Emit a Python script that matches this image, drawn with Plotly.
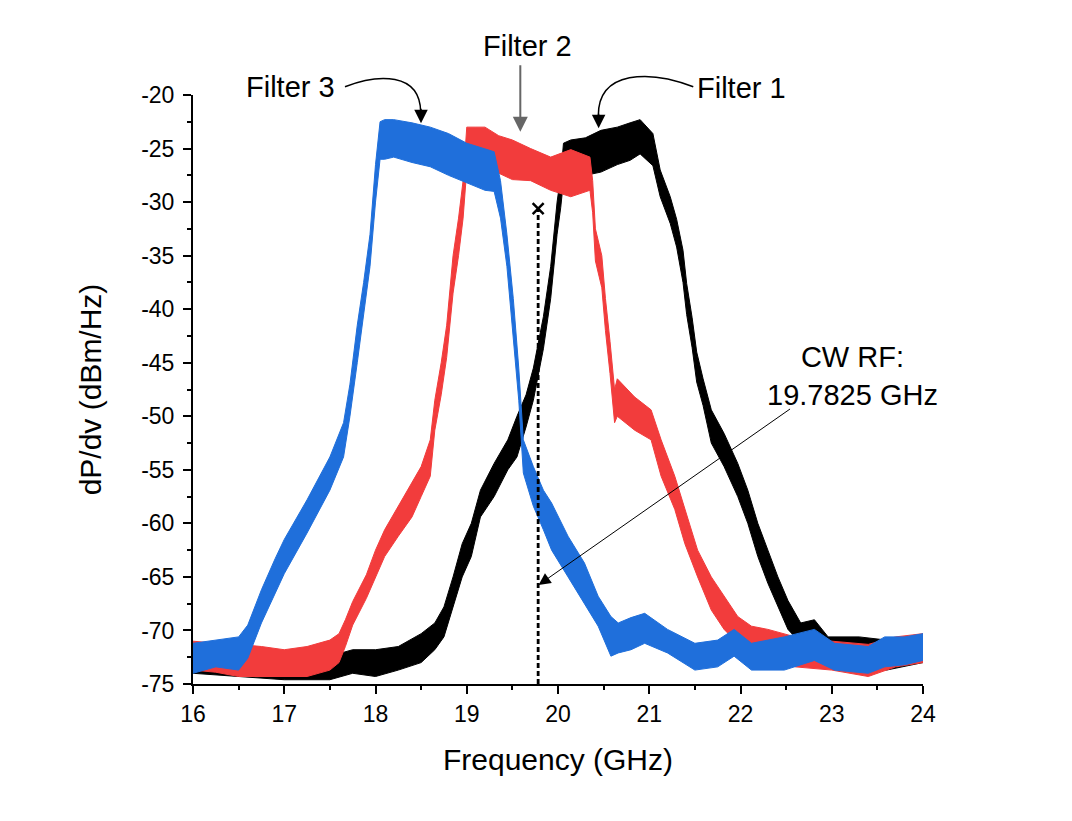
import plotly.graph_objects as go

# ---------------- data ----------------
# Filter 1 (black): frequency (GHz), lower / upper envelope of the noisy trace (dBm/Hz)
f1_freq = [16.0, 16.5, 17.0, 17.5, 17.75, 18.0, 18.25, 18.5, 18.65, 18.75, 18.85, 18.95,
           19.05, 19.15, 19.3, 19.45, 19.55, 19.65, 19.73, 19.84, 19.92, 19.99, 20.03, 20.06,
           20.14, 20.3, 20.47, 20.65, 20.79, 20.9, 21.04, 21.12, 21.23, 21.3, 21.37, 21.41,
           21.47, 21.52, 21.59, 21.68, 21.82, 21.97, 22.08, 22.19, 22.3, 22.41, 22.52, 22.66,
           22.81, 22.96, 23.3, 23.6, 24.0]
f1_lo = [-74.0, -74.3, -74.6, -74.6, -74.0, -74.3, -73.7, -73.0, -71.8, -70.6, -67.8, -65.0,
         -63.1, -59.4, -57.5, -55.0, -53.8, -51.0, -48.5, -43.7, -39.0, -33.0, -30.5, -28.0,
         -27.6, -27.5, -27.2, -26.5, -26.1, -25.5, -26.6, -29.5, -32.0, -34.2, -37.5, -40.5,
         -43.6, -46.8, -49.0, -52.5, -54.7, -57.5, -60.0, -63.1, -65.6, -67.8, -69.9, -71.2,
         -71.5, -73.0, -73.4, -73.7, -73.0]
f1_hi = [-72.1, -72.4, -72.8, -72.4, -71.8, -71.8, -71.5, -70.3, -69.3, -67.8, -65.0, -61.9,
         -60.0, -56.9, -54.4, -52.2, -50.0, -48.0, -45.5, -40.7, -36.0, -30.0, -27.5, -24.5,
         -24.2, -24.0, -23.3, -23.0, -22.6, -22.3, -23.6, -27.0, -29.5, -31.6, -34.5, -37.6,
         -40.8, -44.0, -46.5, -49.4, -51.6, -54.4, -56.9, -60.0, -62.5, -65.0, -67.2, -69.3,
         -69.0, -70.6, -70.6, -70.9, -70.6]

# Filter 2 (red)
f2_freq = [16.0, 16.25, 16.5, 16.75, 17.0, 17.25, 17.5, 17.6, 17.67, 17.75, 17.9, 18.0,
           18.1, 18.25, 18.4, 18.5, 18.6, 18.65, 18.72, 18.78, 18.85, 18.91, 18.96, 19.0,
           19.1, 19.2, 19.35, 19.5, 19.7, 19.92, 20.14, 20.35, 20.38, 20.41, 20.48, 20.52,
           20.57, 20.62, 20.65, 20.84, 21.02, 21.13, 21.28, 21.39, 21.53, 21.68, 21.82, 21.97,
           22.12, 22.3, 22.6, 23.0, 23.4, 23.7, 24.0]
f2_lo = [-73.7, -73.9, -74.3, -74.3, -74.3, -74.3, -73.7, -73.0, -71.5, -69.5, -67.0, -65.0,
         -63.1, -61.2, -59.4, -57.5, -55.6, -51.3, -48.0, -44.5, -38.5, -35.0, -31.5, -27.0,
         -26.5, -26.7, -27.3, -27.9, -28.0, -28.9, -29.5, -28.9, -31.0, -35.5, -38.0, -42.0,
         -46.0, -50.6, -50.0, -51.3, -52.2, -55.6, -58.7, -61.9, -65.0, -68.1, -69.9, -71.2,
         -71.8, -72.4, -73.4, -73.7, -74.3, -73.4, -73.0]
f2_hi = [-71.0, -71.2, -71.3, -71.5, -71.8, -71.5, -70.9, -70.3, -69.0, -67.3, -64.8, -62.5,
         -60.6, -58.4, -56.3, -54.7, -52.2, -48.5, -45.0, -41.5, -35.0, -31.5, -28.0, -23.0,
         -23.0, -23.0, -23.8, -24.2, -25.0, -25.8, -25.1, -25.8, -28.0, -32.5, -35.0, -39.0,
         -43.0, -47.5, -46.5, -48.2, -49.4, -52.2, -55.6, -58.7, -62.5, -65.0, -66.8, -68.7,
         -69.6, -69.9, -70.6, -71.0, -71.3, -70.6, -70.3]

# Filter 3 (blue)
f3_freq = [16.0, 16.25, 16.5, 16.6, 16.75, 16.9, 17.0, 17.25, 17.5, 17.65, 17.72, 17.8,
           17.87, 17.94, 18.0, 18.05, 18.1, 18.2, 18.4, 18.6, 18.8, 19.0, 19.2, 19.3,
           19.37, 19.44, 19.51, 19.57, 19.62, 19.73, 19.84, 19.93, 20.11, 20.29, 20.44, 20.58,
           20.66, 20.8, 20.95, 21.2, 21.5, 21.75, 21.93, 22.12, 22.48, 22.81, 23.03, 23.4,
           23.58, 23.8, 24.0]
f3_lo = [-74.0, -73.4, -73.7, -72.6, -69.3, -66.5, -64.7, -60.9, -56.9, -53.8, -50.0, -45.0,
         -40.5, -36.0, -30.0, -26.0, -26.0, -25.8, -26.3, -26.7, -27.5, -28.2, -28.9, -29.0,
         -31.5, -36.0, -42.5, -48.5, -55.3, -58.4, -60.6, -62.5, -65.0, -67.5, -69.6, -72.4,
         -72.1, -71.8, -71.2, -72.1, -73.7, -73.4, -72.4, -73.7, -73.7, -72.8, -73.7, -74.0,
         -73.4, -73.2, -72.8]
f3_hi = [-71.2, -70.9, -70.6, -69.5, -66.2, -63.3, -61.5, -57.8, -53.8, -50.6, -47.0, -41.5,
         -37.5, -33.0, -26.5, -22.5, -22.3, -22.3, -22.6, -23.0, -23.6, -24.5, -25.0, -25.3,
         -28.0, -33.0, -39.0, -45.5, -52.2, -54.7, -56.9, -58.1, -61.2, -63.7, -66.8, -68.7,
         -69.3, -68.8, -68.4, -69.9, -71.2, -70.9, -69.9, -71.2, -70.6, -69.9, -71.2, -71.5,
         -70.6, -70.6, -70.3]

cw_freq = 19.7825          # CW RF frequency (GHz)
cw_top = -30.6             # level of the x marker (dBm/Hz)

x_ticks = [16, 17, 18, 19, 20, 21, 22, 23, 24]
y_ticks = [-20, -25, -30, -35, -40, -45, -50, -55, -60, -65, -70, -75]

BLACK = "#000000"
RED = "#f23c3c"
BLUE = "#1f6fdb"
FONT = "Liberation Sans, Arial, sans-serif"

fig = go.Figure()

def band(freq, lo, hi, color, name):
    fig.add_trace(go.Scatter(x=freq, y=lo, mode="lines", line=dict(color=color, width=1),
                             showlegend=False, hoverinfo="skip", name=name + " lo"))
    fig.add_trace(go.Scatter(x=freq, y=hi, mode="lines", line=dict(color=color, width=1),
                             fill="tonexty", fillcolor=color, showlegend=False,
                             hoverinfo="skip", name=name))

band(f1_freq, f1_lo, f1_hi, BLACK, "Filter 1")
band(f2_freq, f2_lo, f2_hi, RED, "Filter 2")
band(f3_freq, f3_lo, f3_hi, BLUE, "Filter 3")

# CW RF marker line
fig.add_trace(go.Scatter(x=[cw_freq, cw_freq], y=[y_ticks[-1], cw_top], mode="lines",
                         line=dict(color="black", width=2.8, dash="5px,3px"),
                         showlegend=False, hoverinfo="skip"))
fig.add_trace(go.Scatter(x=[cw_freq], y=[cw_top], mode="markers",
                         marker=dict(symbol="x-thin-open", size=11, color="black",
                                     line=dict(color="black", width=2.5)),
                         showlegend=False, hoverinfo="skip"))

# curved arrows (paper coordinates, outside the plot area)
fig.add_shape(type="path", xref="paper", yref="paper",
              path="M 0.2082,1.0141 C 0.2534,1.0357 0.3110,1.0390 0.3119,0.9711",
              line=dict(color="black", width=1.5))
fig.add_shape(type="path", xref="paper", yref="paper",
              path="M 0.6853,1.0141 C 0.6260,1.0424 0.5548,1.0424 0.5552,0.9643",
              line=dict(color="black", width=1.5))

annotations = [
    dict(x=0.1342, y=1.0136, xref="paper", yref="paper", text="Filter 3", showarrow=False),
    dict(x=0.4582, y=1.0840, xref="paper", yref="paper", text="Filter 2", showarrow=False),
    dict(x=0.7507, y=1.0119, xref="paper", yref="paper", text="Filter 1", showarrow=False),
    dict(x=23.225, y=-46.2, text="CW RF:<br>19.7825 GHz", showarrow=False),
    # arrow heads for curved arrows
    dict(x=18.499, y=-22.64, text="", showarrow=True, ax=0, ay=-16, arrowhead=2,
         arrowsize=1.8, arrowwidth=1.5, arrowcolor="black"),
    dict(x=20.445, y=-23.11, text="", showarrow=True, ax=0, ay=-16, arrowhead=2,
         arrowsize=1.8, arrowwidth=1.5, arrowcolor="black"),
    # straight arrow for Filter 2
    dict(x=19.587, y=-23.43, text="", showarrow=True, ax=0, ay=-68, arrowhead=2,
         arrowsize=1.5, arrowwidth=2, arrowcolor="#666666"),
    # CW RF arrow
    dict(x=19.787, y=-65.75, text="", showarrow=True, ax=253, ay=-177, arrowhead=2,
         arrowsize=2.4, arrowwidth=1, arrowcolor="black"),
]
for a in annotations:
    a.setdefault("xref", "x")
    a.setdefault("yref", "y")
    a["xanchor"] = "center"
    a["yanchor"] = "middle"
    a["font"] = dict(family=FONT, size=29, color="black")
fig.update_layout(annotations=annotations)

axis_common = dict(showline=True, linecolor="black", linewidth=2, mirror=False,
                   showgrid=False, zeroline=False, ticks="outside", ticklen=8,
                   tickwidth=2, tickcolor="black",
                   tickfont=dict(family=FONT, size=23, color="black"))

fig.update_xaxes(range=[16, 24], tickvals=x_ticks, ticktext=[str(v) for v in x_ticks],
                 minor=dict(dtick=0.5, ticklen=4, tickwidth=2, tickcolor="black",
                            ticks="outside", showgrid=False),
                 title=dict(text="Frequency (GHz)", font=dict(family=FONT, size=30,
                                                           color="black"), standoff=23),
                 **axis_common)
fig.update_yaxes(range=[-75, -20], tickvals=y_ticks, ticktext=[str(v) for v in y_ticks],
                 minor=dict(dtick=2.5, ticklen=4, tickwidth=2, tickcolor="black",
                            ticks="outside", showgrid=False),
                 ticklabelstandoff=4,
                 title=dict(text="dP/dv (dBm/Hz)", font=dict(family=FONT, size=30,
                                                          color="black"), standoff=31),
                 **axis_common)

fig.update_layout(width=1072, height=821, autosize=False,
                  margin=dict(l=185, r=157, t=87, b=145, pad=0),
                  paper_bgcolor="white", plot_bgcolor="white",
                  font=dict(family=FONT, color="black"))

fig.write_html("out.html")
